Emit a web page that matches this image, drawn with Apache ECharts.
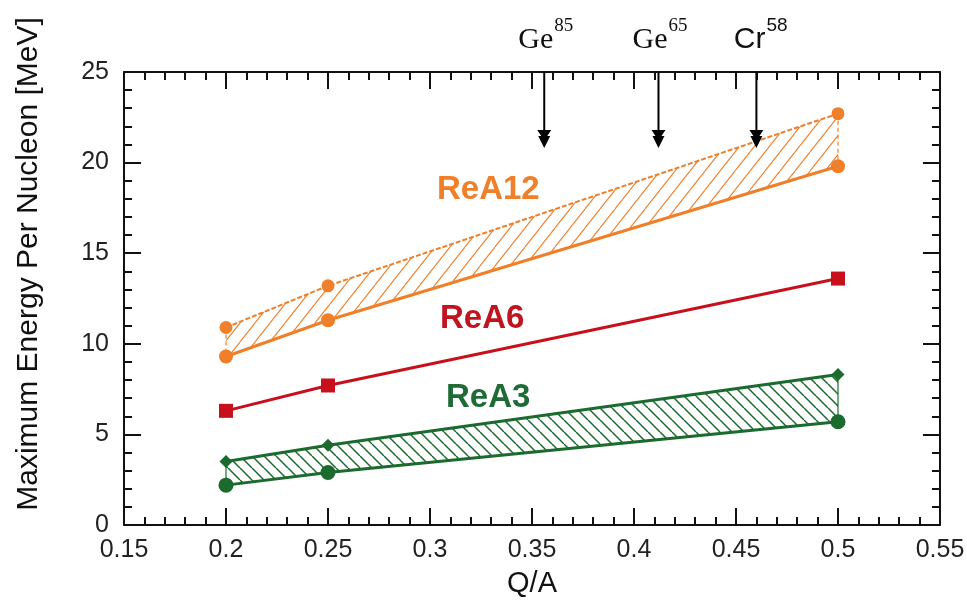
<!DOCTYPE html>
<html>
<head>
<meta charset="utf-8">
<script src="https://cdn.jsdelivr.net/npm/echarts@6/dist/echarts.min.js"></script>
<style>
html,body{margin:0;padding:0;background:#fff;}
#chart{width:967px;height:603px;}
</style>
</head>
<body>
<div id="chart"></div>
<script>
// ---- data ----
const xVals = [0.2, 0.25, 0.5];
const rea12Upper = [10.9, 13.2, 22.7];
const rea12Lower = [9.3, 11.3, 19.8];
const rea6 = [6.3, 7.7, 13.6];
const rea3Upper = [3.5, 4.4, 8.3];
const rea3Lower = [2.2, 2.9, 5.7];
const arrowX = [0.356, 0.412, 0.460];
const arrowTop = [25, 25, 25];
const arrowTip = [20.8, 20.8, 20.8];
const arrowElem = ['Ge', 'Ge', 'Cr'];
const arrowMass = ['85', '65', '58'];
const seriesNames = ['ReA12', 'ReA6', 'ReA3'];
const xRange = [0.15, 0.55, 0.05];
const yRange = [0, 25, 5];
const xTitle = 'Q/A';
const yTitle = 'Maximum Energy Per Nucleon [MeV]';

const FONT = '"Liberation Sans", Arial, sans-serif';
const SERIF = '"Liberation Serif", "Times New Roman", serif';
const ORANGE = '#F07F2A';
const RED = '#C8101C';
const GREEN = '#1B6A2E';

function hatch(color, w, h, dir, lw) {
  const c = document.createElement('canvas');
  c.width = w; c.height = h;
  const g = c.getContext('2d');
  g.strokeStyle = color; g.lineWidth = lw;
  g.beginPath();
  for (const k of [-1, 0, 1]) {
    if (dir === '/') { g.moveTo(k * w, h); g.lineTo(k * w + w, 0); }
    else { g.moveTo(k * w, 0); g.lineTo(k * w + w, h); }
  }
  g.stroke();
  return c;
}
const orangePattern = { image: hatch(ORANGE, 15, 19, '/', 1.1), repeat: 'repeat' };
const greenPattern = { image: hatch(GREEN, 12, 12, '\\', 1.5), repeat: 'repeat' };

function bandData(up, lo) {
  const d = [];
  for (let i = 0; i < xVals.length - 1; i++) {
    d.push([xVals[i], up[i], lo[i], xVals[i + 1], up[i + 1], lo[i + 1]]);
  }
  return d;
}
function bandSeries(up, lo, pattern, edgeColor, edgeDash) {
  const n = xVals.length - 1;
  return {
    type: 'custom',
    z: 1,
    silent: true,
    encode: { x: [0, 3], y: [1, 2, 4, 5] },
    data: bandData(up, lo),
    renderItem: function (params, api) {
      const a = api.coord([api.value(0), api.value(1)]);
      const b = api.coord([api.value(3), api.value(4)]);
      const c = api.coord([api.value(3), api.value(5)]);
      const d = api.coord([api.value(0), api.value(2)]);
      const children = [{
        type: 'polygon',
        shape: { points: [a, b, c, d] },
        style: { fill: pattern, stroke: null }
      }];
      const edgeStyle = { stroke: edgeColor, lineWidth: 1.2, lineDash: edgeDash };
      if (params.dataIndex === 0) {
        children.push({ type: 'line', shape: { x1: a[0], y1: a[1], x2: d[0], y2: d[1] }, style: edgeStyle });
      }
      if (params.dataIndex === n - 1) {
        children.push({ type: 'line', shape: { x1: b[0], y1: b[1], x2: c[0], y2: c[1] }, style: edgeStyle });
      }
      return { type: 'group', children: children };
    }
  };
}
function lineSeries(name, arr, color, width, dash, symbol, size) {
  return {
    name: name,
    type: 'line',
    z: 3,
    data: xVals.map((x, i) => [x, arr[i]]),
    symbol: symbol,
    symbolSize: size,
    showSymbol: true,
    lineStyle: { color: color, width: width, type: dash || 'solid' },
    itemStyle: { color: color, borderWidth: 0 },
    animation: false
  };
}

const arrowSeries = {
  type: 'custom',
  z: 4,
  silent: true,
  clip: false,
  encode: { x: 0, y: [1, 2] },
  data: arrowX.map((x, i) => [x, arrowTop[i], arrowTip[i], i]),
  renderItem: function (params, api) {
    const i = api.value(3);
    const top = api.coord([api.value(0), api.value(1)]);
    const tip = api.coord([api.value(0), api.value(2)]);
    const fam = arrowElem[i] === 'Cr' ? FONT : SERIF;
    const x = top[0];
    const t = tip[1];
    return {
      type: 'group',
      children: [
        { type: 'line', shape: { x1: x, y1: top[1], x2: x, y2: t - 6 }, style: { stroke: '#000', lineWidth: 2 } },
        { type: 'polygon', shape: { points: [[x - 7, t - 18], [x + 7, t - 18], [x + 3, t - 12], [x + 6, t - 12], [x, t], [x - 6, t - 12], [x - 3, t - 12]] }, style: { fill: '#000' } },
        { type: 'text', x: x + 9, y: top[1] - 32, style: { text: arrowElem[i], font: '30px ' + fam, fill: '#111', textAlign: 'right', textVerticalAlign: 'middle' } },
        { type: 'text', x: x + 10, y: top[1] - 46, style: { text: arrowMass[i], font: '19px ' + fam, fill: '#111', textAlign: 'left', textVerticalAlign: 'middle' } }
      ]
    };
  }
};

const tickColor = '#111';
function xAx(pos, showLabel) {
  return {
    type: 'value', position: pos,
    min: xRange[0], max: xRange[1], interval: xRange[2],
    axisLine: { show: true, onZero: false, lineStyle: { color: tickColor, width: 2 } },
    axisTick: { show: true, inside: true, length: 17, lineStyle: { color: tickColor, width: 2 } },
    minorTick: { show: true, splitNumber: 5, length: 8, lineStyle: { color: tickColor, width: 2 } },
    splitLine: { show: false },
    axisLabel: { show: showLabel, fontSize: 25, color: '#222', margin: 13, fontFamily: FONT },
    name: showLabel ? xTitle : '',
    nameLocation: 'middle', nameGap: 44,
    nameTextStyle: { fontSize: 29, color: '#111', fontFamily: FONT }
  };
}
function yAx(pos, showLabel) {
  return {
    type: 'value', position: pos,
    min: yRange[0], max: yRange[1], interval: yRange[2],
    axisLine: { show: true, onZero: false, lineStyle: { color: tickColor, width: 2 } },
    axisTick: { show: true, inside: true, length: 17, lineStyle: { color: tickColor, width: 2 } },
    minorTick: { show: true, splitNumber: 5, length: 8, lineStyle: { color: tickColor, width: 2 } },
    splitLine: { show: false },
    axisLabel: { show: showLabel, fontSize: 25, color: '#222', margin: 15, fontFamily: FONT }
  };
}

const chart = echarts.init(document.getElementById('chart'), null, { renderer: 'canvas' });
chart.setOption({
  animation: false,
  backgroundColor: '#fff',
  grid: { left: 124, right: 27, top: 72, bottom: 78, containLabel: false, outerBoundsMode: 'none' },
  xAxis: [xAx('bottom', true), xAx('top', false)],
  yAxis: [yAx('left', true), yAx('right', false)],
  graphic: [
    { type: 'text', x: 29, y: 264, rotation: Math.PI / 2, style: { text: yTitle, font: '30px ' + FONT, fill: '#111', textAlign: 'center', textVerticalAlign: 'middle' } },
    { type: 'text', left: 437, top: 173, style: { text: seriesNames[0], font: 'bold 33px ' + FONT, fill: ORANGE } },
    { type: 'text', left: 440, top: 302, style: { text: seriesNames[1], font: 'bold 33px ' + FONT, fill: '#C0141E' } },
    { type: 'text', left: 446, top: 381, style: { text: seriesNames[2], font: 'bold 33px ' + FONT, fill: '#1E6B36' } }
  ],
  series: [
    bandSeries(rea12Upper, rea12Lower, orangePattern, ORANGE, [4, 3]),
    bandSeries(rea3Upper, rea3Lower, greenPattern, GREEN, null),
    lineSeries('ReA12 max', rea12Upper, ORANGE, 2, [5, 2], 'circle', 13),
    lineSeries('ReA12 min', rea12Lower, ORANGE, 3, 'solid', 'circle', 14),
    lineSeries('ReA6', rea6, RED, 3, 'solid', 'rect', 14),
    lineSeries('ReA3 max', rea3Upper, GREEN, 3, 'solid', 'diamond', 13),
    lineSeries('ReA3 min', rea3Lower, GREEN, 3, 'solid', 'circle', 15),
    arrowSeries
  ]
});
</script>
</body>
</html>
